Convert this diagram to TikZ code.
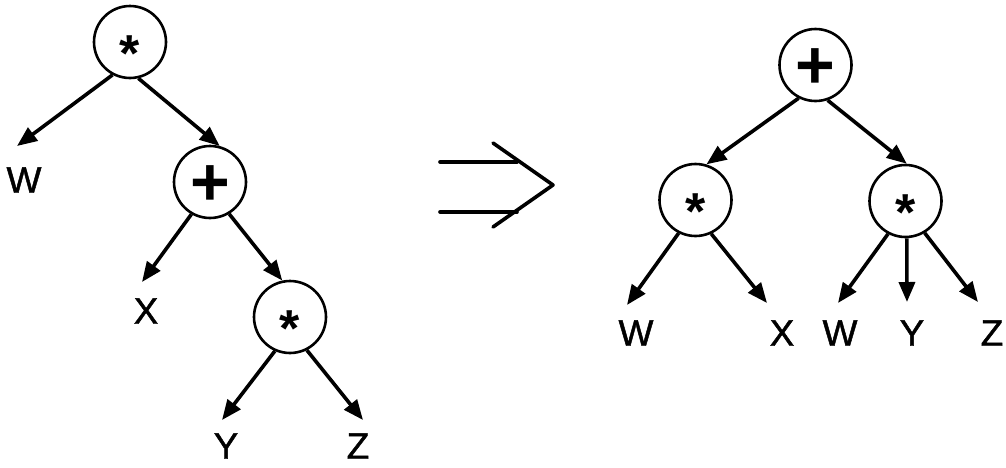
\documentclass[tikz,border=0pt]{standalone}
\usepackage{fontspec}
\setmainfont{Liberation Sans}
\newfontfamily\leaffont{Liberation Sans}[FakeBold=1.2]
\usetikzlibrary{arrows.meta}
\newcommand\opstar{{\fontsize{52}{52}\selectfont\bfseries\raisebox{-0.575em}{*}}}
\newcommand\opplus{{\fontsize{68}{68}\selectfont\bfseries\raisebox{-0.35em}{+}}}
\begin{document}
\begin{tikzpicture}[x=1pt,y=-1pt,
  opnode/.style={circle,draw,line width=2.6pt,minimum size=72pt,inner sep=0pt,text height=0pt,text depth=0pt},
  leaf/.style={font=\leaffont\fontsize{37}{37}\selectfont,inner sep=0pt},
  edge/.style={line width=3.6pt,-{Triangle[length=20pt,width=16pt]}},
  implies/.style={line width=3.6pt,line cap=round,line join=round}]
\useasboundingbox (0,0) rectangle (1006,467);

% left tree
\node[opnode] (r1) at (130,42) {\opstar};
\node[opnode] (p1) at (210,182) {\opplus};
\node[opnode] (s1) at (290,317) {\opstar};
\node[leaf] (W1) at (24,180) {W};
\node[leaf] (X1) at (146,311) {X};
\node[leaf] (Y1) at (226,446) {Y};
\node[leaf] (Z1) at (358,446) {Z};

\draw[edge] (r1.-118) -- ([shift={(-7,-34)}]W1.center);
\draw[edge] (r1.-77) -- (p1.75);
\draw[edge] (p1.-120) -- ([shift={(-4,-29)}]X1.center);
\draw[edge] (p1.-59) -- (s1.102);
\draw[edge] (s1.-114) -- ([shift={(-4,-26)}]Y1.center);
\draw[edge] (s1.-63) -- ([shift={(5,-26)}]Z1.center);

% implication arrow
\coordinate (i1) at (440,162);
\coordinate (i2) at (517,162);
\coordinate (i3) at (440,212);
\coordinate (i4) at (517,212);
\coordinate (c1) at (493,143);
\coordinate (c2) at (553,185);
\coordinate (c3) at (493,227);
\draw[implies] (i1) -- (i2);
\draw[implies] (i3) -- (i4);
\draw[implies] (c1) -- (c2) -- (c3);

% right tree
\node[opnode] (r2) at (815.5,65) {\opplus};
\node[opnode] (l2) at (695.5,200) {\opstar};
\node[opnode] (m2) at (905.5,201) {\opstar};
\node[leaf] (W2) at (636,333) {W};
\node[leaf] (X2) at (782,333) {X};
\node[leaf] (W3) at (840,333) {W};
\node[leaf] (Y2) at (912,333) {Y};
\node[leaf] (Z2) at (992,333) {Z};

\draw[edge] (r2.-117) -- (l2.73);
\draw[edge] (r2.-71) -- (m2.88);
\draw[edge] (l2.-117) -- ([shift={(-9,-28)}]W2.center);
\draw[edge] (l2.-65) -- ([shift={(-15,-30)}]X2.center);
\draw[edge] (m2.-118) -- ([shift={(-2,-30)}]W3.center);
\draw[edge] (m2.-88) -- ([shift={(-5,-31)}]Y2.center);
\draw[edge] (m2.-59) -- ([shift={(-14,-31)}]Z2.center);
\end{tikzpicture}
\end{document}
